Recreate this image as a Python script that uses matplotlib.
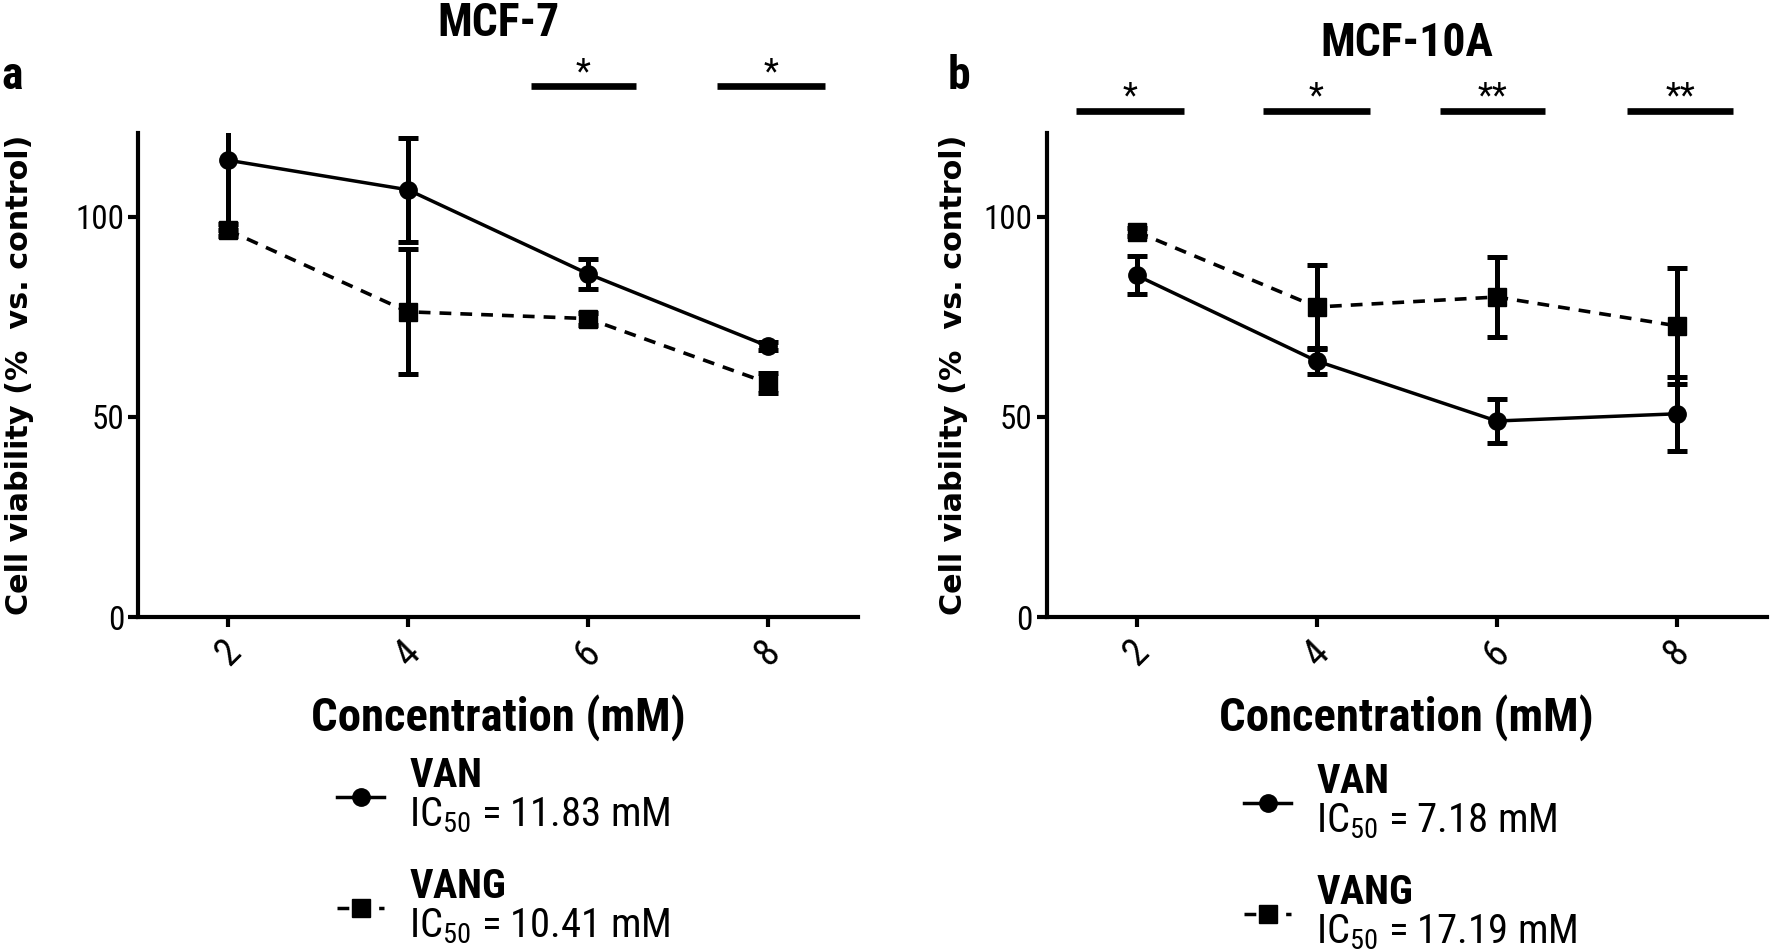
import matplotlib
matplotlib.use("Agg")
import matplotlib.pyplot as plt
from matplotlib import font_manager
from matplotlib.font_manager import FontProperties
from matplotlib.lines import Line2D

# ---------------- data ----------------
conc = [2, 4, 6, 8]
conc_ticks = [2, 4, 6, 8]
y_ticks = [0, 50, 100]

van_mcf7 = [114.2, 106.8, 85.8, 67.7]
van_mcf7_err = [17.5, 13.0, 3.8, 1.0]
vang_mcf7 = [96.7, 76.3, 74.6, 58.5]
vang_mcf7_err = [1.5, 15.6, 1.5, 2.5]

van_10a = [85.4, 64.0, 49.0, 50.8]
van_10a_err = [4.75, 3.3, 5.4, 9.2]
vang_10a = [96.3, 77.5, 80.0, 72.8]
vang_10a_err = [1.0, 10.4, 10.1, 14.5]

titles = ["MCF-7", "MCF-10A"]
panel_letters = ["a", "b"]
ic50_van = ["11.83", "7.18"]
ic50_vang = ["10.41", "17.19"]

# significance bars: (start, end, stars)
sig_mcf7 = [(5.37, 6.53, "*"), (7.43, 8.63, "*")]
sig_10a = [(1.33, 2.52, "*"), (3.40, 4.59, "*"), (5.37, 6.54, "**"), (7.45, 8.63, "**")]

# ---------------- fonts ----------------
def _norm(s):
    return s.lower().replace("-", "").replace("_", "").replace(" ", "")


def _w(e):
    w = e.weight
    if isinstance(w, str):
        return {"normal": 400, "regular": 400, "bold": 700}.get(w, 400)
    return w


cond = None
for pref in ["liberationsansnarrow", "robotocondensed", "dejavusanscondensed",
             "opensanscondensed", "notosanscondensed"]:
    for e in font_manager.fontManager.ttflist:
        fn = _norm(e.fname.split("/")[-1])
        if pref in fn and e.style == "normal" and _w(e) == 400 and "italic" not in fn \
                and "oblique" not in fn and "light" not in fn:
            cond = e
            break
    if cond is not None:
        break

if cond is not None:
    NARROW = cond.name
    STRETCH = cond.stretch
else:
    NARROW = "Liberation Sans"
    STRETCH = "normal"

plt.rcParams["font.family"] = [NARROW, "DejaVu Sans"]
plt.rcParams["font.stretch"] = STRETCH
rm_pat = FontProperties(family=NARROW, stretch=STRETCH, weight="normal").get_fontconfig_pattern()
bf_pat = FontProperties(family=NARROW, stretch=STRETCH, weight="bold").get_fontconfig_pattern()
plt.rcParams["mathtext.fontset"] = "custom"
plt.rcParams["mathtext.rm"] = rm_pat
plt.rcParams["mathtext.bf"] = bf_pat
plt.rcParams["lines.scale_dashes"] = False

W, H = 1772, 951
fig = plt.figure(figsize=(W / 100, H / 100), dpi=100)
fig.patch.set_facecolor("white")
renderer = fig.canvas.get_renderer()


def fit_size(s, target_px, **kw):
    t = fig.text(0, 0, s, fontsize=20, **kw)
    w = t.get_window_extent(renderer).width
    t.remove()
    return 20 * target_px / w


TICK_FS = fit_size("100", 49)
XLAB_FS = fit_size("Concentration (mM)", 375, fontweight="bold")
TITLE_FS = fit_size("MCF-7", 122, fontweight="bold")
LEG_FS = fit_size(r"IC$_{\mathrm{50}}$ = 11.83 mM", 262)
YLAB_FS = fit_size("Cell viability (%  vs. control)", 483, fontweight="bold",
                   family="DejaVu Sans", fontstretch="normal")
STAR_FS = TICK_FS * 1.05

ax_w = 720 / W
ax_h = 484 / H
ax_b = 1 - 617 / H
ax1 = fig.add_axes([138 / W, ax_b, ax_w, ax_h])
ax2 = fig.add_axes([1046.7 / W, ax_b, ax_w, ax_h])

DASH = (0, (8.5, 6.5))


def draw_panel(ax, van, van_err, vang, vang_err, title, sig, sig_y, star_y,
               title_y, ylabel_x, ic_van, ic_vang, leg_xy):
    ax.errorbar(conc, van, yerr=van_err, fmt="-o", color="k", lw=2.5, ms=12.5,
                elinewidth=3.6, capsize=7, capthick=3.6, zorder=3)
    eb = ax.errorbar(conc, vang, yerr=vang_err, fmt="-s", color="k", lw=2.6, ms=13,
                     elinewidth=3.6, capsize=7, capthick=3.6, zorder=3)
    eb[0].set_linestyle(DASH)

    ax.set_xlim(1, 9)
    ax.set_ylim(0, 121)
    ax.set_xticks(conc_ticks)
    ax.set_xticklabels([str(t) for t in conc_ticks], rotation=45, ha="center",
                       fontsize=TICK_FS * 1.15)
    ax.set_yticks(y_ticks)
    for s in ["top", "right"]:
        ax.spines[s].set_visible(False)
    for s in ["left", "bottom"]:
        ax.spines[s].set_linewidth(3)
    ax.tick_params(axis="both", direction="out", length=7, width=3)
    ax.tick_params(axis="y", labelsize=TICK_FS, pad=3)
    ax.tick_params(axis="x", pad=5)

    ax.set_xlabel("Concentration (mM)", fontsize=XLAB_FS, fontweight="bold")
    ax.xaxis.set_label_coords(0.5, -(718 - 617) / 484)
    ax.xaxis.label.set_va("center")
    ax.set_ylabel("Cell viability (%  vs. control)", fontsize=YLAB_FS, fontweight="bold",
                  family="DejaVu Sans", fontstretch="normal")
    ax.yaxis.label.set_va("center")
    ax.yaxis.set_label_coords(ylabel_x, 0.5)

    ax.text(0.5, title_y, title, transform=ax.transAxes, ha="center", va="center",
            fontsize=TITLE_FS, fontweight="bold")

    for x0, x1, st in sig:
        ax.plot([x0, x1], [sig_y, sig_y], color="k", lw=4.8, clip_on=False,
                solid_capstyle="butt")
        ax.text((x0 + x1) / 2, star_y, st, ha="center", va="center", fontsize=STAR_FS,
                clip_on=False)

    h1 = Line2D([], [], color="k", lw=2.5, marker="o", ms=12.5)
    h2 = Line2D([], [], color="k", lw=2.5, marker="s", ms=13, linestyle=DASH)
    fs_px = LEG_FS * 100 / 72
    leg = ax.legend([h1, h2],
                    [r"$\bf{VAN}$" + "\n" + r"IC$_{\mathrm{50}}$ = " + ic_van + " mM",
                     r"$\bf{VANG}$" + "\n" + r"IC$_{\mathrm{50}}$ = " + ic_vang + " mM"],
                    loc="center left", bbox_to_anchor=leg_xy, bbox_transform=fig.transFigure,
                    frameon=False, fontsize=LEG_FS, handlelength=47 / fs_px,
                    handletextpad=25 / fs_px, borderpad=0, borderaxespad=0,
                    labelspacing=0.78, numpoints=1)
    for t in leg.get_texts():
        t.set_linespacing(1.03)
    return ax


draw_panel(ax1, van_mcf7, van_mcf7_err, vang_mcf7, vang_mcf7_err, titles[0],
           sig_mcf7, 132.7, 136.1, (617 - 23) / 484, -0.164,
           ic50_van[0], ic50_vang[0], (337 / W, 1 - 851 / H))
draw_panel(ax2, van_10a, van_10a_err, vang_10a, vang_10a_err, titles[1],
           sig_10a, 126.4, 130.1, (617 - 43) / 484, -0.130,
           ic50_van[1], ic50_vang[1], (1244 / W, 1 - 857 / H))

fig.text(12 / W, 1 - 76 / H, panel_letters[0], ha="center", va="center", fontsize=TITLE_FS,
         fontweight="bold")
fig.text(959 / W, 1 - 76 / H, panel_letters[1], ha="center", va="center", fontsize=TITLE_FS,
         fontweight="bold")

fig.savefig("out.png", dpi=100, facecolor="white")
